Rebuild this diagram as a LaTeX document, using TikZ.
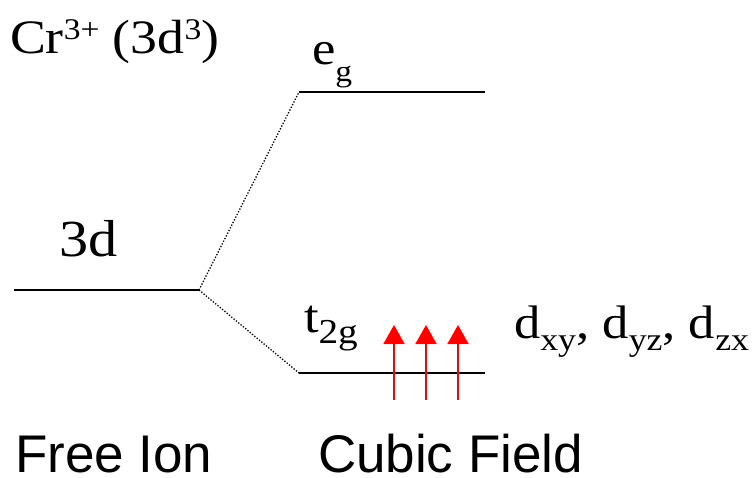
\documentclass[tikz,border=0pt]{standalone}
\usepackage{fontspec}
\setmainfont{Liberation Serif}
\setsansfont{Liberation Sans}
\newfontfamily\serifw[FakeStretch=1.12]{Liberation Serif}
\usetikzlibrary{arrows.meta}
\newcommand{\mainfs}{\fontsize{47}{50}\selectfont\serifw}
\newcommand{\mysub}[3][12pt]{\raisebox{-#1}{\fontsize{#2}{#2}\selectfont\serifw #3}}
\newcommand{\mysupr}[1]{\raisebox{14pt}{\fontsize{30}{32}\selectfont\serifw #1}}
\begin{document}
\begin{tikzpicture}[x=1pt,y=-1pt,
  level/.style={line width=1.6pt,black},
  split/.style={line width=1.3pt,dash pattern=on 1.3pt off 1.7pt},
  spin/.style={red,line width=1.6pt,-{Triangle[width=21pt,length=19pt]}},
  lbl/.style={anchor=base west,inner sep=0pt,outer sep=0pt,font=\mainfs},
  captext/.style={anchor=base west,inner sep=0pt,outer sep=0pt,text depth=0pt,font=\fontsize{53}{56}\selectfont\sffamily}]
\useasboundingbox (0,0) rectangle (755,478);
% level end points
\coordinate (fA) at (14,290);
\coordinate (fB) at (199,290);
\coordinate (eA) at (299,92);
\coordinate (eB) at (485,92);
\coordinate (tA) at (299,373);
\coordinate (tB) at (485,373);
\draw[level] (fA) -- (fB);
\draw[level] (eA) -- (eB);
\draw[level] (tA) -- (tB);
\draw[split] (fB) -- (eA);
\draw[split] (fB) -- (tA);
% electrons
\foreach \i/\x in {1/394,2/426,3/458}{
  \coordinate (s\i) at (\x,400);
  \coordinate (h\i) at (\x,325);
  \draw[spin] (s\i) -- (h\i);
}
% labels
\node[lbl,font=\fontsize{48}{50}\selectfont\serifw] (ion) at (10,54) {Cr\mysupr{3+} (3d\mysupr{3})};
\node[lbl,font=\fontsize{52}{54}\selectfont\serifw] (free3d) at (59,257) {3d};
\node[lbl] (eg) at (312,65) {e\mysub[17pt]{30}{g}};
\node[lbl] (t2g) at (304,333) {t\mysub[11pt]{35}{2g}};
\node[lbl] (orb) at (514,338) {d\mysub{32}{xy}, d\mysub{32}{yz}, d\mysub{32}{zx}};
\node[captext] (freeion) at (15,472) {Free Ion};
\node[captext] (cubic) at (318,472) {Cubic Field};
\end{tikzpicture}
\end{document}
